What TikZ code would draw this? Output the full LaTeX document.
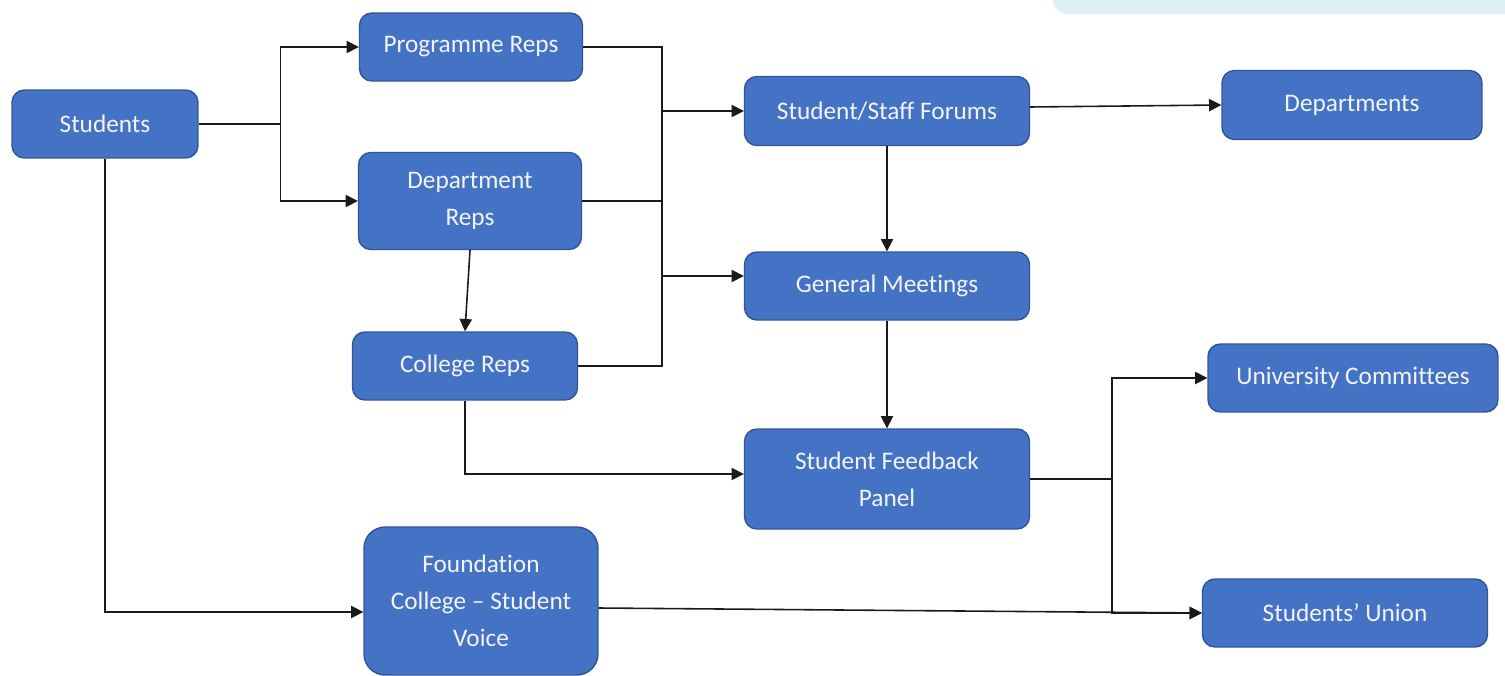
\documentclass[tikz,border=0pt]{standalone}
\usepackage{fontspec}
\setmainfont{Carlito}[Ligatures=NoCommon]
\usetikzlibrary{positioning, arrows.meta, calc}
\definecolor{boxFill}{HTML}{4472C4}
\definecolor{boxBorder}{HTML}{2F5597}
\definecolor{boxText}{HTML}{F4F4F4}
\definecolor{linkColor}{HTML}{1A1A1A}
\definecolor{bgTint}{HTML}{DCEFF2}
\tikzset{
  unit/.style={draw=boxBorder, fill=boxFill, rounded corners=7pt,
    minimum height=1.36cm, font=\fontsize{14.4}{21}\selectfont,
    text=boxText, line width=0.8pt, align=center, inner sep=2pt},
  link/.style={line width=0.9pt, color=linkColor},
  arrow/.style={-{Triangle[length=7pt, width=7pt]}, line width=0.9pt, color=linkColor},
}

\begin{document}
\begin{tikzpicture}[x=0.02cm, y=-0.02cm]
  \useasboundingbox (0,0) rectangle (1505,676);

  % === Tinted strip at the top right ===
  \fill[bgTint, rounded corners=0.3cm] (1053,-30) rectangle (1545,14);

  % === Left column: student bodies ===
  \node[unit, minimum width=3.72cm] (stud) at (105,124) {Students};
  \node[unit, minimum width=4.46cm] (prog) at (471,47) {Programme Reps};
  \node[unit, minimum width=4.46cm, minimum height=1.94cm] (dept) at (470,201) {Department\\Reps};
  \node[unit, minimum width=4.5cm] (coll) at (465,366) {College Reps};
  \node[unit, minimum width=4.68cm, minimum height=2.96cm, rounded corners=12pt] (found) at (481,601) {Foundation\\College -- Student\\Voice};

  % === Middle column: meetings ===
  \node[unit, minimum width=5.7cm, minimum height=1.38cm] (forums) at (887,111) {Student/Staff Forums};
  \node[unit, minimum width=5.7cm] (meet) at (887,286) {General Meetings};
  \node[unit, minimum width=5.7cm, minimum height=2.0cm] (panel) at (887,479) {Student Feedback\\Panel};

  % === Right column: receivers ===
  \node[unit, minimum width=5.2cm, minimum height=1.38cm] (depts) at (1352,105) {Departments};
  \node[unit, minimum width=5.8cm] (unic) at (1353,378) {University Committees};
  \node[unit, minimum width=5.7cm] (union) at (1345,613) {Students’ Union};

  % === Students -> reps ===
  \path (stud.east) -- ++(82,0) coordinate (busS);
  \draw[link] (stud.east) -- (busS);
  \draw[arrow] (busS) |- (prog.west);
  \draw[arrow] (busS) |- (dept.west);
  \draw[arrow] (stud.south) |- ([yshift=-0.22cm]found.west);
  \draw[arrow] (dept.south) -- (coll.north);

  % === Reps -> forums and meetings ===
  \path (coll.east) -- ++(84,0) coordinate (busR);
  \draw[link] (prog.east) -| (busR) -- (coll.east);
  \draw[link] (dept.east) -- (dept.east -| busR);
  \draw[arrow] (forums.west -| busR) -- (forums.west);
  \draw[arrow] ([yshift=0.2cm]meet.west -| busR) -- ([yshift=0.2cm]meet.west);
  \draw[arrow] (coll.south) |- ([yshift=0.1cm]panel.west);

  % === Middle column flow ===
  \draw[arrow] ([yshift=0.08cm]forums.east) -- (depts.west);
  \draw[arrow] (forums) -- (meet);
  \draw[arrow] (meet) -- (panel);

  % === Panel -> committees and union ===
  \path (panel.east) -- ++(82,0) coordinate (busU);
  \draw[link] (panel.east) -- (busU);
  \draw[arrow] (busU) |- (unic.west);
  \draw[arrow] (busU) |- (union.west);
  \draw[arrow] ([yshift=-0.14cm]found.east) -- (union.west);

\end{tikzpicture}
\end{document}
